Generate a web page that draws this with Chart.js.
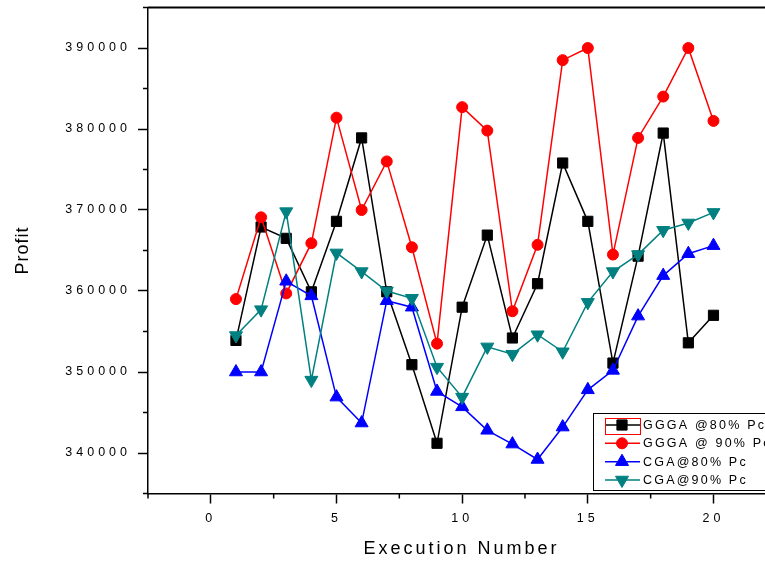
<!DOCTYPE html>
<html><head><meta charset="utf-8">
<script src="https://cdn.jsdelivr.net/npm/chart.js@4/dist/chart.umd.min.js"></script>
<style>html,body{margin:0;padding:0;background:#fff}canvas{display:block}</style>
</head><body>
<canvas id="c" width="765" height="562"></canvas>
<script>
// ---- data ----
const executionNumbers = [1,2,3,4,5,6,7,8,9,10,11,12,13,14,15,16,17,18,19,20];
const ggga80 = [353900,367900,366500,359900,368600,378900,359900,350900,341200,358000,366900,354200,360900,375800,368600,351100,364300,379500,353600,357000];
const ggga90 = [359000,369100,359700,365900,381400,370000,376000,365400,353500,382700,379800,357500,365700,388500,390000,364500,378900,384000,390000,381000];
const cga80  = [350000,350000,361200,359400,346900,343700,358800,358000,347600,345700,342800,341100,339200,343200,347800,350200,356900,361900,364600,365600];
const cga90  = [354500,357700,369800,349000,364700,362400,360000,359100,350600,346900,353100,352200,354600,352500,358600,362400,364500,367500,368400,369700];
const seriesLabels = ['GGGA @80% Pc','GGGA @ 90% Pc','CGA@80% Pc','CGA@90% Pc'];
const xTickValues = [0,5,10,15,20];
const xMinorTickValues = [-2.5,2.5,7.5,12.5,17.5,22.5];
const yTickValues = [340000,350000,360000,370000,380000,390000];
const yMinorTickValues = [335000,345000,355000,365000,375000,385000,395000];

const FONT = '"Liberation Sans", Arial, sans-serif';
const pts = arr => executionNumbers.map((x,i)=>({x, y:arr[i]}));

const colors = ['#000000','#ff0000','#0000ff','#008080'];
const styles = [
  {pointStyle:'rect', radius:7.2, rotation:0},
  {pointStyle:'circle', radius:5.5, rotation:0},
  {pointStyle:'triangle', radius:7.5, rotation:0},
  {pointStyle:'triangle', radius:7.5, rotation:180}
];
const series = [ggga80, ggga90, cga80, cga90];
const datasets = series.map((s,i)=>({
  label: seriesLabels[i],
  data: pts(s),
  borderColor: colors[i],
  backgroundColor: colors[i],
  borderWidth: 1.5,
  pointStyle: styles[i].pointStyle,
  pointRadius: styles[i].radius,
  pointRotation: styles[i].rotation,
  pointBorderWidth: 1,
  pointBackgroundColor: colors[i],
  pointBorderColor: colors[i],
  tension: 0,
  order: 4 - i
}));

function drawMarker(ctx, style, x, y, r, rot, color) {
  ctx.save();
  ctx.fillStyle = color; ctx.strokeStyle = color; ctx.lineWidth = 1;
  ctx.beginPath();
  if (style === 'rect') {
    const s = Math.SQRT1_2 * r;
    ctx.rect(x - s, y - s, 2*s, 2*s);
  } else if (style === 'circle') {
    ctx.arc(x, y, r, 0, Math.PI*2);
  } else {
    let a = rot * Math.PI/180;
    ctx.moveTo(x + Math.sin(a)*r, y - Math.cos(a)*r);
    a += 2*Math.PI/3;
    ctx.lineTo(x + Math.sin(a)*r, y - Math.cos(a)*r);
    a += 2*Math.PI/3;
    ctx.lineTo(x + Math.sin(a)*r, y - Math.cos(a)*r);
    ctx.closePath();
  }
  ctx.fill(); ctx.stroke();
  ctx.restore();
}

const decorPlugin = {
  id: 'decor',
  afterLayout(chart) {
    for (const s of Object.values(chart.scales)) {
      if (s._lsPatched) continue;
      s._lsPatched = true;
      const dl = s.drawLabels.bind(s), dt = s.drawTitle.bind(s);
      const tickSp = '4px';
      const isY = s.axis === 'y';
      const titleSp = isY ? '1px' : '3px';
      s.drawLabels = function(a){ const c=this.ctx; c.save(); c.letterSpacing = tickSp; dl(a); c.restore(); };
      s.drawTitle = function(a){ const c=this.ctx; c.save(); c.letterSpacing = titleSp; if (!isY) c.translate(5, 0); dt(a); c.restore(); };
    }
  },
  afterDraw(chart) {
    const ctx = chart.ctx, area = chart.chartArea;
    const xs = chart.scales.x, ys = chart.scales.y;
    ctx.save();
    ctx.strokeStyle = '#000';
    // top frame line
    ctx.lineWidth = 2;
    ctx.beginPath(); ctx.moveTo(area.left, area.top); ctx.lineTo(area.right + 2, area.top); ctx.stroke();
    // minor ticks
    ctx.lineWidth = 1.5;
    ctx.beginPath();
    for (const v of xMinorTickValues) {
      if (v < xs.min - 1e-9 || v > xs.max + 1e-9) continue;
      const px = xs.getPixelForValue(v);
      ctx.moveTo(px, area.bottom); ctx.lineTo(px, area.bottom + 5);
    }
    for (const v of yMinorTickValues) {
      if (v < ys.min - 1e-9 || v > ys.max + 1e-9) continue;
      const py = ys.getPixelForValue(v);
      ctx.moveTo(area.left, py); ctx.lineTo(area.left - 5, py);
    }
    ctx.stroke();

    // legend box
    const bx = 593, by = 413, bw = 180, bh = 77;
    ctx.fillStyle = '#fff';
    ctx.fillRect(bx, by, bw, bh);
    ctx.lineWidth = 1;
    ctx.strokeStyle = '#000';
    ctx.strokeRect(bx + 0.5, by + 0.5, bw, bh);
    const rowY = [425, 443.3, 461.7, 480];
    chart.data.datasets.forEach((ds, i) => {
      const y = rowY[i];
      ctx.strokeStyle = ds.borderColor; ctx.lineWidth = 1.5;
      ctx.beginPath(); ctx.moveTo(605, y); ctx.lineTo(640, y); ctx.stroke();
      drawMarker(ctx, ds.pointStyle, 622, y, ds.pointRadius, ds.pointRotation, ds.borderColor);
      ctx.fillStyle = '#000';
      ctx.font = '12.5px ' + FONT;
      ctx.letterSpacing = '2.2px';
      ctx.textBaseline = 'middle';
      ctx.textAlign = 'left';
      ctx.fillText(ds.label, 643, y + 0.5);
      ctx.letterSpacing = '0px';
    });
    // red selection rectangle around first legend sample
    ctx.strokeStyle = '#ff0000'; ctx.lineWidth = 1;
    ctx.strokeRect(605.5, 418.5, 35, 16);
    ctx.restore();
  }
};

new Chart(document.getElementById('c'), {
  type: 'line',
  data: { datasets },
  plugins: [decorPlugin],
  options: {
    responsive: false,
    animation: false,
    devicePixelRatio: 1,
    layout: { autoPadding: false, padding: { top: 7.5, right: 0, left: 0, bottom: 0 } },
    plugins: { legend: { display: false }, tooltip: { enabled: false } },
    scales: {
      x: {
        type: 'linear',
        min: -2.5, max: 22.05,
        afterBuildTicks: s => { s.ticks = xTickValues.map(v => ({value: v})); },
        afterFit: s => { s.height = 68.5; s.paddingLeft = 0; s.paddingRight = 0; s.paddingTop = 0; s.paddingBottom = 0; },
        grid: { drawOnChartArea: false, drawTicks: true, tickLength: 10, tickColor: '#000', tickWidth: 1.5 },
        border: { display: true, color: '#000', width: 1.5 },
        ticks: { color: '#000', font: { family: FONT, size: 12.5 }, padding: 8, maxRotation: 0, autoSkip: false,
                 callback: v => String(v) },
        title: { display: true, text: 'Execution Number', color: '#000', font: { family: FONT, size: 18 }, padding: { top: 2, bottom: 2 } }
      },
      y: {
        type: 'linear',
        min: 335000, max: 395000,
        afterBuildTicks: s => { s.ticks = yTickValues.map(v => ({value: v})); },
        afterFit: s => { s.width = 148; s.paddingLeft = 0; s.paddingRight = 0; s.paddingTop = 0; s.paddingBottom = 0; },
        grid: { drawOnChartArea: false, drawTicks: true, tickLength: 10, tickColor: '#000', tickWidth: 1.5 },
        border: { display: true, color: '#000', width: 1.5 },
        ticks: { color: '#000', font: { family: FONT, size: 12.5 }, padding: 7, autoSkip: false,
                 callback: v => String(v) },
        title: { display: true, text: 'Profit', color: '#000', font: { family: FONT, size: 18 }, padding: { top: 12, bottom: 2 } }
      }
    }
  }
});
</script>
</body></html>
